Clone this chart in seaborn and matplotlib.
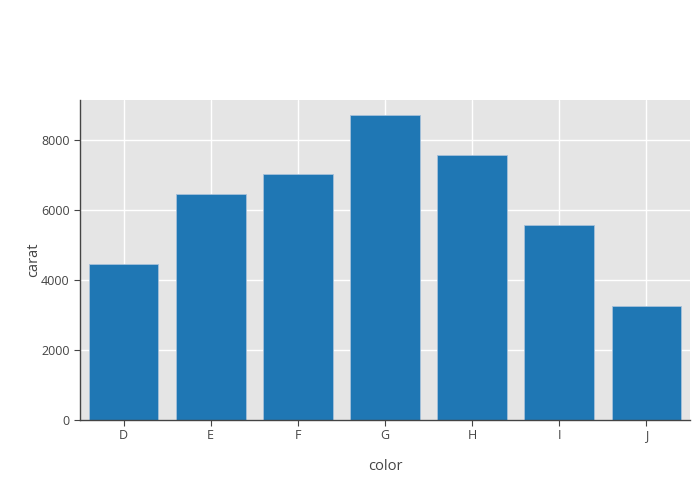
import matplotlib
matplotlib.use("agg")
import matplotlib.pyplot as plt
import seaborn as sns
import pandas

colors = ["D", "E", "F", "G", "H", "I", "J"]
carat = [4457, 6446, 7028, 8709, 7572, 5568, 3264]

df = pandas.DataFrame({"color": colors, "carat": carat})

sns.set_style("darkgrid", {"axes.facecolor": "#e5e5e5", "grid.color": "white"})
plt.rcParams["font.family"] = ["Open Sans", "DejaVu Sans"]

fig = plt.figure(figsize=(7, 5), dpi=100)
ax = fig.add_axes([80 / 700, 80 / 500, 610 / 700, 320 / 500])

sns.barplot(data=df, x="color", y="carat", color="#1f77b4", saturation=1,
            width=0.8, edgecolor="#a6c1da", linewidth=0.6, ax=ax, zorder=2)

ax.set_ylim(0, 9143)
ax.set_xlim(-0.5, 6.5)
ax.set_yticks([0, 2000, 4000, 6000, 8000])
ax.grid(True, color="white", linewidth=1)
ax.set_axisbelow(True)

for s in ["top", "right"]:
    ax.spines[s].set_visible(False)
for s in ["left", "bottom"]:
    ax.spines[s].set_visible(True)
    ax.spines[s].set_color("#444444")
    ax.spines[s].set_linewidth(1)

ax.tick_params(axis="both", colors="#444444", labelsize=9, length=4, width=0.8,
               direction="out", left=True, bottom=True)
ax.tick_params(axis="x", pad=2.5)
ax.set_xlabel("color", fontsize=10.5, color="#444444", labelpad=12)
ax.set_ylabel("carat", fontsize=10.5, color="#444444", labelpad=0)

fig.savefig("out.png", dpi=100)
